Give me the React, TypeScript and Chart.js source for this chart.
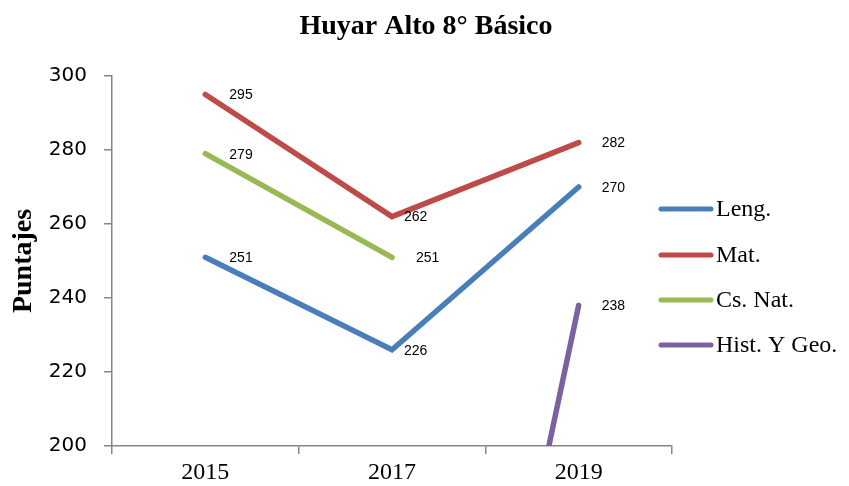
import React, { useEffect, useRef } from 'react';
import { Chart, registerables } from 'chart.js';

Chart.register(...registerables);

const TITLE = 'Huyar Alto 8° Básico';
const Y_TITLE = 'Puntajes';
const YEARS = ['2015', '2017', '2019'];
const SERIES_NAMES = ['Leng.', 'Mat.', 'Cs. Nat.', 'Hist. Y Geo.'];
const LENG = [251, 226, 270];
const MAT = [295, 262, 282];
const CS_NAT = [279, 251, null];
const HIST = [null, 0, 238];
const Y_MIN = 200;
const Y_MAX = 300;
const Y_STEP = 20;

const COLORS = ['#4A7EBB', '#BE4B48', '#98B954', '#7D60A0'];
const LABEL_DX = [
  [24, 12, 23],
  [24, 12, 23],
  [24, 24, 23],
  [24, 24, 23],
];
const LEGEND_Y = [209, 255, 300, 345];
const AXIS_COLOR = '#868686';

const overlay = {
  id: 'overlay',
  afterDatasetsDraw(chart: any) {
    const ctx = chart.ctx as CanvasRenderingContext2D;
    ctx.save();
    // data labels
    ctx.font = '14px "Liberation Sans"';
    ctx.fillStyle = '#000';
    ctx.textBaseline = 'middle';
    ctx.textAlign = 'left';
    chart.data.datasets.forEach((ds: any, i: number) => {
      const meta = chart.getDatasetMeta(i);
      ds.data.forEach((v: number | null, j: number) => {
        if (v == null || v < Y_MIN || v > Y_MAX) return;
        const pt = meta.data[j];
        ctx.fillText(String(v), pt.x + LABEL_DX[i][j], pt.y + 1);
      });
    });
    // title
    ctx.font = 'bold 28px "Liberation Serif"';
    ctx.textAlign = 'center';
    ctx.fillText(TITLE, 426, 27);
    // y axis title
    ctx.save();
    ctx.translate(24, 261);
    ctx.rotate(-Math.PI / 2);
    ctx.font = 'bold 28px "Liberation Serif"';
    ctx.fillText(Y_TITLE, 0, 0);
    ctx.restore();
    // legend
    ctx.textAlign = 'left';
    ctx.font = '24px "Liberation Serif"';
    SERIES_NAMES.forEach((name, i) => {
      const y = LEGEND_Y[i];
      ctx.beginPath();
      ctx.strokeStyle = COLORS[i];
      ctx.lineWidth = 5;
      ctx.lineCap = 'round';
      ctx.moveTo(661, y);
      ctx.lineTo(711, y);
      ctx.stroke();
      ctx.fillStyle = '#000';
      ctx.fillText(name, 716, y + 1);
    });
    ctx.restore();
  },
};

export default function App() {
  const ref = useRef<HTMLCanvasElement>(null);
  useEffect(() => {
    if (!ref.current) return;
    const seriesData = [LENG, MAT, CS_NAT, HIST];
    const chart = new Chart(ref.current, {
      type: 'line',
      data: {
        labels: YEARS,
        datasets: SERIES_NAMES.map((name, i) => ({
          label: name,
          data: seriesData[i],
          borderColor: COLORS[i],
          backgroundColor: COLORS[i],
          borderWidth: 5.5,
          pointRadius: 0,
          borderCapStyle: 'round',
          borderJoinStyle: 'miter',
          tension: 0,
          spanGaps: false,
        })),
      },
      options: {
        responsive: false,
        animation: false,
        layout: { padding: { left: 0, top: 76, right: 177, bottom: 0 } },
        plugins: {
          legend: { display: false },
          title: { display: false },
          tooltip: { enabled: false },
        },
        scales: {
          x: {
            type: 'category',
            offset: true,
            grid: {
              display: true,
              drawOnChartArea: false,
              offset: true,
              tickLength: 8,
              color: AXIS_COLOR,
              lineWidth: 1.5,
            },
            border: { color: AXIS_COLOR, width: 1.5 },
            ticks: {
              color: '#000',
              font: { family: '"Liberation Serif"', size: 24 },
              padding: 4,
            },
            afterFit: (s: any) => {
              s.height = 40;
            },
          },
          y: {
            min: Y_MIN,
            max: Y_MAX,
            grid: {
              display: true,
              drawOnChartArea: false,
              tickLength: 8,
              color: AXIS_COLOR,
              lineWidth: 1.5,
            },
            border: { color: AXIS_COLOR, width: 1.5 },
            ticks: {
              stepSize: Y_STEP,
              color: '#000',
              font: { family: '"DejaVu Sans"', size: 20 },
              padding: 17,
            },
            afterFit: (s: any) => {
              s.width = 112;
            },
          },
        },
      },
      plugins: [overlay],
    } as any);
    return () => chart.destroy();
  }, []);
  return (
    <div style={{ position: 'absolute', left: 0, top: 0, width: 849, height: 486, background: '#fff' }}>
      <canvas ref={ref} width={849} height={486} />
    </div>
  );
}
